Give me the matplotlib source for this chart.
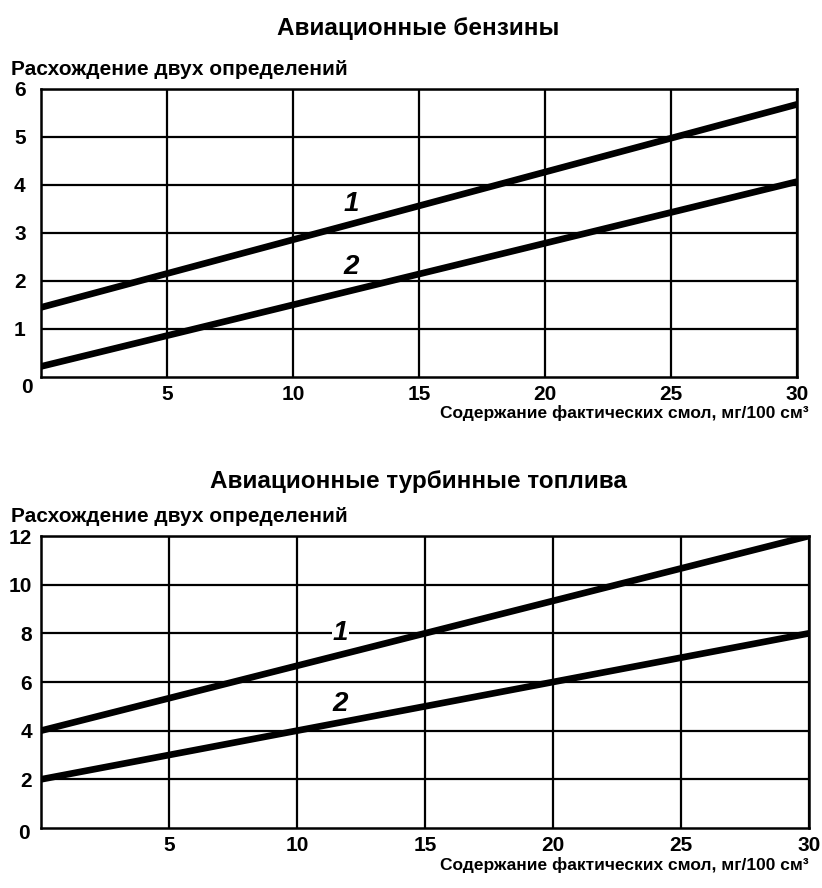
import matplotlib
matplotlib.use("Agg")
import matplotlib.pyplot as plt

plt.rcParams['font.family'] = ['Liberation Sans', 'DejaVu Sans']
plt.rcParams['font.weight'] = 'bold'

# ---- data ----
x_ends = [0, 30]
top_line1 = [1.45, 5.68]
top_line2 = [0.22, 4.07]
bot_line1 = [4.0, 12.0]
bot_line2 = [2.0, 8.0]

x_ticks = [5, 10, 15, 20, 25, 30]
top_yticks = [1, 2, 3, 4, 5, 6]
bot_yticks = [2, 4, 6, 8, 10, 12]

title_top = "Авиационные бензины"
title_bot = "Авиационные турбинные топлива"
ylabel_txt = "Расхождение двух определений"
xlabel_txt = "Содержание фактических смол, мг/100 см³"

W, H = 822, 888
fig = plt.figure(figsize=(W / 100, H / 100), dpi=100)


def axes_px(left, right, top, bottom):
    return fig.add_axes([left / W, 1 - bottom / H, (right - left) / W, (bottom - top) / H])


def style(ax, ymax, xgrid, ygrid, ypad, zero_off):
    ax.set_xlim(0, 30)
    ax.set_ylim(0, ymax)
    ax.set_xticks(xgrid)
    ax.set_yticks(ygrid)
    ax.set_xticklabels([str(v) for v in xgrid])
    ax.set_yticklabels([str(v) for v in ygrid])
    ax.tick_params(length=0, labelsize=15)
    ax.tick_params(axis='x', pad=6)
    ax.tick_params(axis='y', pad=ypad)
    for lab in ax.get_xticklabels() + ax.get_yticklabels():
        lab.set_fontweight('bold')
    ax.grid(True, color='black', lw=1.6)
    for s in ax.spines.values():
        s.set_linewidth(1.8)
    ax.set_axisbelow(True)
    ax.annotate('0', xy=(0, 0), xycoords='data', xytext=zero_off, textcoords='offset points',
                ha='center', va='center', fontsize=15, fontweight='bold')


# ---- top chart ----
ax1 = axes_px(41, 797, 89, 377)
style(ax1, 6, x_ticks, top_yticks, 11, (-10, -7.5))
ax1.plot(x_ends, top_line1, color='black', lw=4.8, solid_capstyle='butt')
ax1.plot(x_ends, top_line2, color='black', lw=4.8, solid_capstyle='butt')
ax1.text(12.3, 3.6, '1', fontsize=20, fontstyle='italic', fontweight='bold', ha='center', va='center')
ax1.text(12.3, 2.29, '2', fontsize=20, fontstyle='italic', fontweight='bold', ha='center', va='center')

# ---- bottom chart ----
ax2 = axes_px(41, 809, 536, 828)
style(ax2, 12, x_ticks, bot_yticks, 6.5, (-12, -4))
ax2.plot(x_ends, bot_line1, color='black', lw=4.8, solid_capstyle='butt')
ax2.plot(x_ends, bot_line2, color='black', lw=4.8, solid_capstyle='butt')
ax2.text(11.7, 8.0, '1', fontsize=20, fontstyle='italic', fontweight='bold', ha='center', va='center',
         bbox=dict(facecolor='white', edgecolor='none', pad=0.5))
ax2.text(11.7, 5.08, '2', fontsize=20, fontstyle='italic', fontweight='bold', ha='center', va='center')

# ---- texts ----
fig.text(418 / W, 1 - 35 / H, title_top, ha='center', va='baseline', fontsize=17.5, fontweight='bold')
fig.text(418 / W, 1 - 488 / H, title_bot, ha='center', va='baseline', fontsize=17.5, fontweight='bold')
fig.text(11 / W, 1 - 75 / H, ylabel_txt, ha='left', va='baseline', fontsize=15, fontweight='bold')
fig.text(11 / W, 1 - 522 / H, ylabel_txt, ha='left', va='baseline', fontsize=15, fontweight='bold')
fig.text(809 / W, 1 - 418 / H, xlabel_txt, ha='right', va='baseline', fontsize=12.5, fontweight='bold')
fig.text(809 / W, 1 - 870 / H, xlabel_txt, ha='right', va='baseline', fontsize=12.5, fontweight='bold')

fig.savefig("out.png", dpi=100, facecolor='white')
